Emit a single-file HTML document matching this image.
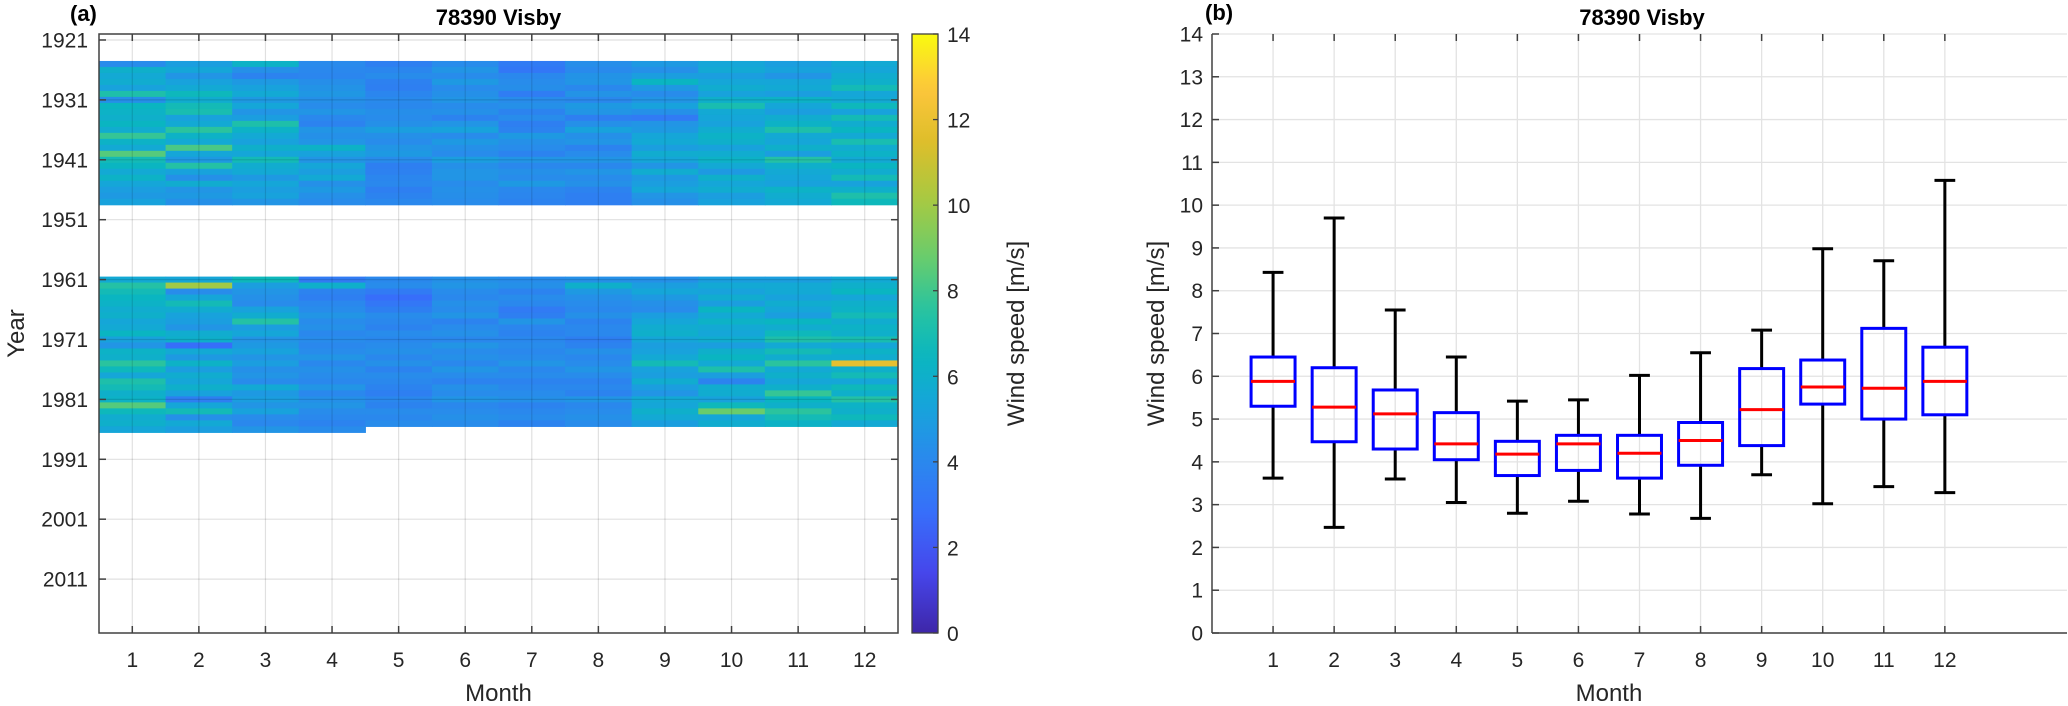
<!DOCTYPE html>
<html><head><meta charset="utf-8"><style>
html,body{margin:0;padding:0;background:#fff;}
svg{display:block;font-family:"Liberation Sans",Arial,sans-serif;}
</style></head><body>
<svg id="fig" width="2068" height="706" viewBox="0 0 2068 706"></svg>
<script>
// ---------- data ----------
const months = [1,2,3,4,5,6,7,8,9,10,11,12];
const yearTicks = [1921,1931,1941,1951,1961,1971,1981,1991,2001,2011];
const cbTicks = [0,2,4,6,8,10,12,14];
const boxTicks = [0,1,2,3,4,5,6,7,8,9,10,11,12,13,14];
const years1 = [1925,1926,1927,1928,1929,1930,1931,1932,1933,1934,1935,1936,1937,1938,1939,1940,1941,1942,1943,1944,1945,1946,1947,1948];
const values1 = [
[4.2,5.0,6.2,4.1,3.6,4.2,3.4,4.3,4.8,5.4,5.0,5.6],
[6.0,5.4,4.4,4.0,3.9,4.6,3.2,4.1,4.4,5.6,5.2,5.4],
[5.6,4.6,3.8,3.9,4.2,4.2,4.0,4.5,5.0,5.0,4.6,5.8],
[5.8,5.2,4.8,4.3,3.7,4.8,4.2,4.6,6.4,5.4,5.4,6.0],
[5.2,5.6,5.2,4.5,3.6,4.2,4.3,4.0,4.8,5.8,5.6,6.8],
[7.2,6.6,5.6,4.7,3.9,4.4,3.5,4.5,4.2,5.2,5.0,5.4],
[4.4,5.8,4.8,4.4,4.1,4.6,4.2,4.0,4.6,6.0,6.2,5.6],
[6.4,6.8,5.4,4.2,4.0,4.2,4.4,4.8,5.2,7.0,5.4,6.6],
[6.2,7.0,4.6,4.6,4.3,4.4,3.8,4.6,4.4,5.6,5.0,5.2],
[6.0,5.2,5.0,4.0,4.2,3.8,4.2,3.6,3.4,5.4,5.8,6.8],
[6.4,5.6,7.2,3.8,4.4,4.6,3.6,4.4,4.6,5.2,6.2,5.8],
[5.8,7.6,6.2,4.6,5.0,5.2,3.8,5.2,4.8,5.8,7.2,6.4],
[7.8,6.2,5.6,4.4,4.4,4.2,4.8,4.4,5.4,6.2,5.6,5.6],
[6.2,5.6,5.2,4.6,4.2,4.8,4.4,4.6,5.6,6.0,5.4,7.0],
[5.6,8.2,6.0,6.2,4.6,4.4,4.2,3.8,5.0,5.2,6.0,5.8],
[8.4,5.4,5.4,5.2,4.8,4.2,3.8,4.2,5.8,5.8,5.0,6.2],
[6.8,4.8,6.8,4.6,4.2,5.0,4.6,4.6,5.4,6.2,7.4,5.6],
[6.4,7.4,5.8,5.4,3.6,4.4,4.0,4.0,4.6,5.6,6.0,6.4],
[5.6,5.2,5.6,5.0,3.7,4.6,4.4,4.6,5.8,4.8,5.6,5.8],
[6.2,4.4,4.8,5.6,3.9,4.6,4.2,4.2,4.8,6.0,5.4,6.8],
[5.4,5.8,5.4,4.4,4.0,4.2,4.8,4.4,5.0,5.4,5.2,5.2],
[5.0,4.6,5.0,4.8,3.6,4.4,4.0,3.8,5.4,5.8,6.2,6.0],
[4.8,4.8,5.2,4.4,3.8,4.3,3.9,3.6,4.6,5.0,5.8,7.2],
[5.2,4.4,4.6,4.2,4.0,4.2,3.8,3.6,4.4,5.2,5.6,6.6]
];
const years2 = [1961,1962,1963,1964,1965,1966,1967,1968,1969,1970,1971,1972,1973,1974,1975,1976,1977,1978,1979,1980,1981,1982,1983,1984,1985,1986];
const values2 = [
[5.6,5.4,6.6,3.4,4.0,4.4,4.2,4.4,4.4,5.0,5.0,5.6],
[7.4,10.0,5.0,6.0,4.2,4.6,4.4,6.0,5.0,5.6,5.6,6.0],
[6.8,4.2,4.6,3.8,3.4,4.2,3.8,4.8,5.4,5.2,5.6,6.4],
[6.4,5.4,4.4,3.6,2.8,4.0,4.2,4.4,4.8,5.8,5.2,5.4],
[6.2,6.8,4.2,4.0,3.2,4.4,4.0,4.2,4.4,5.0,5.8,6.0],
[5.8,5.8,5.2,4.2,3.6,4.2,3.4,4.0,4.2,6.4,5.4,6.2],
[6.0,5.2,5.8,4.6,4.2,4.6,3.6,4.4,5.0,5.6,5.0,6.8],
[5.4,5.0,7.4,4.2,4.0,3.8,4.6,3.8,5.4,6.2,6.4,5.8],
[5.6,4.6,5.0,4.4,3.8,4.2,3.9,4.0,5.8,5.6,5.8,6.2],
[6.4,5.8,5.4,4.0,4.2,4.4,3.8,4.0,6.0,5.4,6.6,6.0],
[5.2,6.0,4.6,4.2,4.0,4.0,4.0,3.6,5.4,5.8,7.2,7.0],
[4.6,2.8,4.8,4.0,4.2,4.6,4.2,3.8,5.0,5.0,5.6,5.4],
[6.2,5.6,5.2,4.2,4.4,4.2,4.0,4.4,5.2,6.0,6.8,6.2],
[6.0,4.8,4.6,4.6,4.0,4.4,4.2,4.0,5.6,6.4,5.8,5.8],
[7.6,6.2,5.0,4.0,4.4,4.0,4.6,4.2,6.8,5.6,7.6,11.8],
[6.6,5.0,4.4,4.4,3.8,4.6,4.0,4.6,5.2,7.2,5.6,6.0],
[5.4,5.8,4.6,4.2,4.2,4.2,4.2,4.2,5.0,5.0,6.0,6.8],
[7.2,5.4,4.2,4.0,4.0,3.8,3.8,3.8,5.8,3.8,5.4,5.4],
[6.8,6.0,5.6,4.6,3.8,4.4,4.0,4.0,5.0,5.8,6.0,6.6],
[6.0,5.2,4.8,4.0,3.6,4.2,4.2,3.8,4.6,5.8,7.8,6.0],
[6.2,3.6,5.0,4.4,4.0,4.6,4.4,4.6,5.6,5.2,6.4,7.4],
[8.4,5.4,4.6,4.6,3.8,4.0,3.8,4.0,5.4,6.6,6.0,6.2],
[6.6,6.8,5.2,4.2,4.2,4.2,4.0,4.2,6.0,8.8,7.6,6.0],
[5.8,4.4,4.2,4.0,4.0,4.4,4.2,4.4,5.6,5.4,6.8,6.6],
[6.0,5.6,4.0,3.8,4.2,4.2,3.8,4.2,5.0,5.8,6.2,5.6],
[5.4,5.0,4.6,4.2,null,null,null,null,null,null,null,null]
];
const whiskerLow  = [3.62,2.47,3.60,3.05,2.80,3.08,2.78,2.68,3.70,3.02,3.42,3.28];
const q1          = [5.30,4.47,4.30,4.05,3.68,3.80,3.62,3.92,4.38,5.35,5.00,5.10];
const medians     = [5.88,5.28,5.12,4.42,4.18,4.42,4.20,4.50,5.22,5.75,5.72,5.88];
const q3          = [6.45,6.20,5.68,5.15,4.48,4.62,4.62,4.92,6.18,6.38,7.12,6.68];
const whiskerHigh = [8.43,9.70,7.55,6.45,5.42,5.45,6.02,6.55,7.08,8.98,8.70,10.58];

// ---------- helpers ----------
const NS="http://www.w3.org/2000/svg";
const svg=document.getElementById('fig');
function mk(tag,attrs,parent){const e=document.createElementNS(NS,tag);for(const k in attrs)e.setAttribute(k,attrs[k]);(parent||svg).appendChild(e);return e;}
function txt(s,attrs,parent){const e=mk('text',attrs,parent);e.textContent=s;return e;}
const parulaStops=[[0,[62,38,168]],[0.1,[70,70,235]],[0.2,[55,110,250]],[0.3,[40,140,235]],[0.38,[22,165,218]],[0.46,[10,182,192]],[0.54,[40,195,160]],[0.62,[100,204,112]],[0.72,[165,202,67]],[0.82,[222,190,42]],[0.91,[253,198,60]],[1,[249,251,14]]];
function parula(t){t=Math.max(0,Math.min(1,t));for(let i=1;i<parulaStops.length;i++){if(t<=parulaStops[i][0]){const a=parulaStops[i-1],b=parulaStops[i];const f=(t-a[0])/(b[0]-a[0]);const c=a[1].map((v,j)=>Math.round(v+(b[1][j]-v)*f));return `rgb(${c[0]},${c[1]},${c[2]})`;}}return 'rgb(249,251,14)';}

// ---------- panel (a) heatmap ----------
const A={l:99,r:898,t:34,b:633,x0:0.5,x1:12.5,y0:1920,y1:2020};
const ax=m=>A.l+(m-A.x0)/(A.x1-A.x0)*(A.r-A.l);
const ay=y=>A.t+(y-A.y0)/(A.y1-A.y0)*(A.b-A.t);
const gA=mk('g',{});


const cells=mk('g',{},gA);


function drawBlock(yrs,vals){
  yrs.forEach((yr,i)=>{vals[i].forEach((v,j)=>{
    if(v===null)return;
    const r=mk('rect',{x:ax(months[j]-0.5),y:ay(yr-0.5),width:ax(months[j]+0.5)-ax(months[j]-0.5)+0.6,height:ay(yr+0.5)-ay(yr-0.5)+0.6,fill:parula(v/14)},cells);
    
    
  });});
}
drawBlock(years1,values1);
drawBlock(years2,values2);
months.forEach(m=>{const l=mk('line',{x1:ax(m),x2:ax(m),y1:A.t,y2:A.b,stroke:'rgba(0,0,0,0.12)','stroke-width':1.2},gA);});
yearTicks.forEach(y=>{const l=mk('line',{x1:A.l,x2:A.r,y1:ay(y),y2:ay(y),stroke:'rgba(0,0,0,0.12)','stroke-width':1.2},gA);});
months.forEach(m=>{
  mk('line',{x1:ax(m),x2:ax(m),y1:A.b,y2:A.b-7,stroke:'#404040','stroke-width':1.5},gA);
  mk('line',{x1:ax(m),x2:ax(m),y1:A.t,y2:A.t+7,stroke:'#404040','stroke-width':1.5},gA);
  const t=txt(String(m),{x:ax(m),y:667,'font-size':21,'text-anchor':'middle',fill:'#262626'},gA);
  
});
yearTicks.forEach(y=>{
  mk('line',{x1:A.l,x2:A.l+7,y1:ay(y),y2:ay(y),stroke:'#404040','stroke-width':1.5},gA);
  mk('line',{x1:A.r,x2:A.r-7,y1:ay(y),y2:ay(y),stroke:'#404040','stroke-width':1.5},gA);
  const t=txt(String(y),{x:88,y:ay(y)+7.5,'font-size':21,'text-anchor':'end',fill:'#262626'},gA);
  
});
const fa=mk('rect',{x:A.l,y:A.t,width:A.r-A.l,height:A.b-A.t,fill:'none',stroke:'#404040','stroke-width':1.5},gA);

let e;
e=txt('78390 Visby',{x:(A.l+A.r)/2,y:25,'font-size':22,'font-weight':'bold','text-anchor':'middle',fill:'#000'},gA);

e=txt('(a)',{x:70,y:21,'font-size':22,'font-weight':'bold',fill:'#000'},gA);

e=txt('Month',{x:(A.l+A.r)/2,y:701,'font-size':24,'text-anchor':'middle',fill:'#262626'},gA);

e=txt('Year',{x:0,y:0,'font-size':24,'text-anchor':'middle',fill:'#262626',transform:`translate(24,${(A.t+A.b)/2}) rotate(-90)`},gA);


// colorbar
const CB={l:912,r:938,t:34,b:633};
const cb=mk('g',{});


const defs=mk('defs',{});
const lg=mk('linearGradient',{id:'parg',x1:0,y1:1,x2:0,y2:0},defs);
for(let i=0;i<=40;i++){mk('stop',{offset:i/40,'stop-color':parula(i/40)},lg);}
mk('rect',{x:CB.l,y:CB.t,width:CB.r-CB.l,height:CB.b-CB.t,fill:'url(#parg)',stroke:'#404040','stroke-width':1.3},cb);
cbTicks.forEach(v=>{
  const y=CB.b-(v/14)*(CB.b-CB.t);
  mk('line',{x1:CB.r,x2:CB.r-5,y1:y,y2:y,stroke:'#404040','stroke-width':1.3},cb);
  const t=txt(String(v),{x:947,y:y+8,'font-size':21,fill:'#262626'},cb);
  
});
e=txt('Wind speed [m/s]',{x:0,y:0,'font-size':24,'text-anchor':'middle',fill:'#262626',transform:`translate(1024,${(CB.t+CB.b)/2}) rotate(-90)`},cb);


// ---------- panel (b) boxplot ----------
const B={l:1212,r:2067,t:34,b:633,x0:0,x1:14,y0:0,y1:14};
const bx=m=>B.l+(m-B.x0)/(B.x1-B.x0)*(B.r-B.l);
const by=v=>B.b-(v-B.y0)/(B.y1-B.y0)*(B.b-B.t);
const gB=mk('g',{});


months.forEach(m=>{const l=mk('line',{x1:bx(m),x2:bx(m),y1:B.t,y2:B.b,stroke:'#e3e3e3','stroke-width':1.3},gB);});
boxTicks.forEach(v=>{const l=mk('line',{x1:B.l,x2:B.r,y1:by(v),y2:by(v),stroke:'#e3e3e3','stroke-width':1.3},gB);});
months.forEach(m=>{
  mk('line',{x1:bx(m),x2:bx(m),y1:B.b,y2:B.b-7,stroke:'#404040','stroke-width':1.5},gB);
  mk('line',{x1:bx(m),x2:bx(m),y1:B.t,y2:B.t+7,stroke:'#404040','stroke-width':1.5},gB);
  const t=txt(String(m),{x:bx(m),y:667,'font-size':21,'text-anchor':'middle',fill:'#262626'},gB);
  
});
boxTicks.forEach(v=>{
  mk('line',{x1:B.l,x2:B.l+7,y1:by(v),y2:by(v),stroke:'#404040','stroke-width':1.5},gB);
  const t=txt(String(v),{x:1203,y:by(v)+7.5,'font-size':21,'text-anchor':'end',fill:'#262626'},gB);
  
});
const hw=0.36, cw=0.17;
months.forEach((m,i)=>{
  const g=mk('g',{},gB);
  
  
  mk('line',{x1:bx(m),x2:bx(m),y1:by(q3[i]),y2:by(whiskerHigh[i]),stroke:'#000','stroke-width':3},g);
  mk('line',{x1:bx(m),x2:bx(m),y1:by(q1[i]),y2:by(whiskerLow[i]),stroke:'#000','stroke-width':3},g);
  mk('line',{x1:bx(m-cw),x2:bx(m+cw),y1:by(whiskerHigh[i]),y2:by(whiskerHigh[i]),stroke:'#000','stroke-width':3},g);
  mk('line',{x1:bx(m-cw),x2:bx(m+cw),y1:by(whiskerLow[i]),y2:by(whiskerLow[i]),stroke:'#000','stroke-width':3},g);
  mk('rect',{x:bx(m-hw),y:by(q3[i]),width:bx(m+hw)-bx(m-hw),height:by(q1[i])-by(q3[i]),fill:'none',stroke:'#0000ff','stroke-width':3},g);
  mk('line',{x1:bx(m-hw),x2:bx(m+hw),y1:by(medians[i]),y2:by(medians[i]),stroke:'#ff0000','stroke-width':3},g);
});
mk('line',{x1:B.l,x2:B.r,y1:B.b,y2:B.b,stroke:'#404040','stroke-width':1.5},gB);
mk('line',{x1:B.l,x2:B.l,y1:B.t,y2:B.b,stroke:'#404040','stroke-width':1.5},gB);
e=txt('78390 Visby',{x:1642,y:25,'font-size':22,'font-weight':'bold','text-anchor':'middle',fill:'#000'},gB);

e=txt('(b)',{x:1205,y:20,'font-size':22,'font-weight':'bold',fill:'#000'},gB);

e=txt('Month',{x:bx(6.5),y:701,'font-size':24,'text-anchor':'middle',fill:'#262626'},gB);

e=txt('Wind speed [m/s]',{x:0,y:0,'font-size':24,'text-anchor':'middle',fill:'#262626',transform:`translate(1164,${(B.t+B.b)/2}) rotate(-90)`},gB);

</script>
</body></html>
